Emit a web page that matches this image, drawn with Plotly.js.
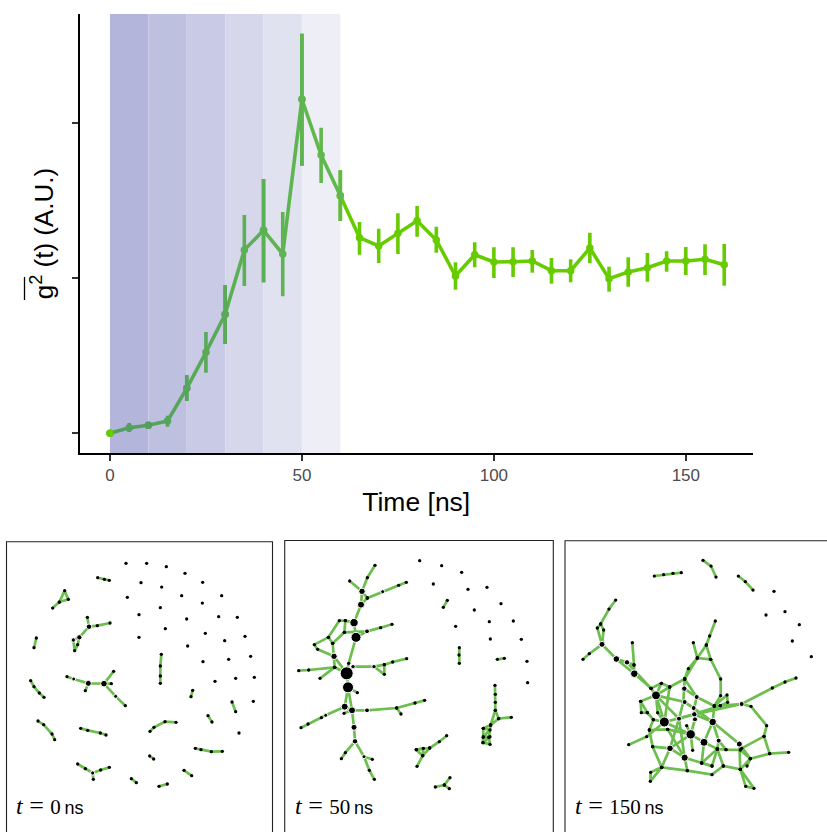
<!DOCTYPE html>
<html><head><meta charset="utf-8">
<script src="https://cdn.plot.ly/plotly-3.0.1.min.js"></script>
<style>html,body{margin:0;padding:0;background:#fff;overflow:hidden}</style>
</head><body><div id="chart" style="width:827px;height:832px"></div>
<script>
// ---- main series (arbitrary units) ----
const times = [0,5,10,15,20,25,30,35,40,45,50,55,60,65,70,75,80,85,90,95,100,105,110,115,120,125,130,135,140,145,150,155,160];
const meanG2 = [19.7,25.3,27.7,32,64.7,100.7,138.7,203,222.7,199,353.7,298,257.3,215.3,207,219.7,232.3,213,177,198.3,191,191.3,192,182.3,182.3,205,174.3,181,185.3,192,192,193.7,188.3];
const upperG2 = [19.7,30,31,37.3,77.7,121,168,238,274,241,419.3,325.3,282.7,231,224.3,239.7,247,226.3,190.7,210.7,205.7,205.7,203,195,193.7,220.3,186.3,195.7,200,201.7,206,208.7,209];
const lowerG2 = [19.7,21,24,26.3,52,80.3,109,167,170.7,156.7,287.3,270,232,198.3,190,199,216.3,200.3,163.3,185.7,175,176,180.3,169.3,170.7,189.7,161.3,166.3,171.3,181.3,178,178,167.3];
const yTicks = [20,175,330];
const xTicks = [0,50,100,150];
const bandEdges = [0,10,20,30,40,50,60];
const bandFill = ['#b3b5da','#bec0df','#c9cae6','#d6d7eb','#e1e2f0','#eeeef7'];
const bandLine = ['#549f60','#57a55c','#59aa58','#5baf55','#5eb451','#61b84d'];

// ---- contact networks at three times (panel picture units) ----
const p1Lone = [[378,100],[440,100],[499,110],[555,130],[423,158],[485,171],[608,157],[545,197],[665,197],[382,202],[607,219],[481,233],[417,254],[560,267],[656,260],[712,262],[496,296],[616,310],[417,322],[674,332],[735,319],[563,348],[609,395],[686,388],[752,379],[645,454],[707,445],[763,442],[760,514],[717,609]];
const p1Paths = [[293,143,313,148,328,151],[158,234,178,216,194,182,205,208,178,216],[262,262,267,290,292,287,330,279],[267,290,238,322,220,330,224,362,233,344,238,322],[109,324,102,353],[484,373,481,408,481,438,481,460],[92,452,102,470,118,489,132,502],[201,440,221,447,265,460,312,461,334,461],[265,460,256,482],[312,461,341,424],[312,461,347,499,376,527],[578,481,573,500],[696,516,707,545],[624,557,636,576],[114,573,131,584,156,612,164,629],[242,595,263,601,301,609,318,615],[450,604,462,592,495,575,528,577],[586,655,603,659,634,665,667,664],[449,678,461,687],[233,702,256,716,278,729,302,720,328,712],[278,729,280,748],[394,746,409,758],[477,769,502,762],[552,721,575,737]];
const p1Big = [[312,461,6.6],[265,460,6],[267,290,5.5],[238,322,5.3],[220,330,4.4],[278,729,4.2],[347,499,4],[221,447,3.8]];

const p2Lone = [[419,92],[485,107],[545,127],[460,162],[564,178],[621,172],[663,221],[583,240],[628,275],[700,273],[527,289],[631,327],[724,328],[741,394],[743,458]];
const p2Paths = [[490,232,502,211],[538,353,537,375,538,400],[652,388,673,385],[285,106,262,143,246,184,243,224,222,278,228,322,206,400,200,430],[209,153,246,184],[379,157,356,166,308,185,262,204,246,184],[262,204,243,224],[222,278,196,272,178,272,145,322,103,344,113,358,162,379,200,430],[196,272,193,307,158,340,162,379,164,412,200,430],[193,307,261,304,302,293,336,283],[228,322,261,304],[145,322,158,340],[56,422,86,420,164,412],[120,445,164,412],[200,430,219,410,282,410,313,404,338,396,380,386],[282,410,313,433,313,404],[200,430,204,472,194,530,216,541],[204,472,232,488],[204,472,216,541,222,592,225,634],[63,593,84,582,124,563,137,556,194,530],[192,550,216,541],[216,541,261,541,350,534,405,519,434,511],[350,534,363,552],[225,634,196,668,184,686],[225,634,252,680,268,721,283,748],[252,680,277,688],[500,617,478,635,449,654,428,677,411,709],[409,659,449,654],[409,659,428,677],[409,659,430,655,428,677],[645,466,646,493,646,517,646,541,632,585,610,595,609,638,630,643,627,622,632,585],[646,541,656,566,694,562],[656,566,632,585],[610,595,630,600,610,620,630,620,609,638],[610,622,627,622],[466,771,493,765,510,743],[493,765,508,776]];
const p2Big = [[200,430,13],[204,472,11],[228,322,10],[222,278,8.4],[243,224,7],[246,184,6.4],[162,379,6.4],[194,530,7],[216,541,7],[222,592,6],[225,634,5.4],[261,541,4.8],[282,410,4.4],[219,410,4.4],[261,304,4.8],[137,556,4],[252,680,4],[308,185,4]];

const p3Lone = [[657,184],[690,245],[633,255],[733,284],[712,333],[769,380]];
const p3Paths = [[298,138,326,134,354,130,379,128],[444,91,468,108,483,141],[550,138,571,155,594,180],[182,210,162,237,137,282,127,294,141,343],[137,282,146,300,141,343],[84,388,103,371,141,343,184,387,216,397,237,405,238,431,288,475,303,496],[184,387,238,431],[232,338,237,405],[216,397,288,475],[481,273,464,318,454,345,427,384,400,416,389,447,388,476,385,516,372,566,345,655,320,712,286,754,287,727,320,712],[415,338,427,384,467,388,454,345],[467,388,497,447,497,497,478,528],[427,384,389,447],[389,447,344,471,319,460,288,475],[344,471,303,496],[319,460,303,496],[389,447,425,501],[723,444,690,456,652,474,560,522,496,527,478,528,473,576,447,637],[560,522,588,529,635,587,627,619,560,655],[627,619,644,671,701,667],[644,671,586,686,556,718,505,708,471,734,397,722,320,712],[556,718,597,775,572,769,556,718],[586,686,576,708],[473,576,553,642,586,686],[473,576,491,632,513,659,556,660,586,686],[491,632,487,657,471,708,440,699],[487,657,505,708],[487,657,440,699,447,637],[447,637,407,613,328,576,303,496],[221,644,275,620,328,576],[303,496,257,514,259,548,277,548,295,569,328,576],[257,514,277,548],[303,496,308,548,328,576],[295,569,283,600,293,650,345,655,389,683,397,722],[283,600,338,598,407,613],[293,650,320,712],[389,683,372,566],[344,471,328,576],[303,496,389,516,473,576],[303,496,372,566],[425,501,418,534,417,553,420,568,407,613,413,661],[388,476,425,501,478,528],[372,566,496,527],[328,576,418,553,560,522],[417,553,473,576],[389,516,417,535,473,576],[395,587,407,613],[338,598,389,683],[447,637,487,657,513,659],[478,528,516,495,518,517,496,527],[389,683,440,699,471,708],[345,655,407,613],[553,642,556,718]];
const p3Big = [[328,576,10],[407,613,9.4],[303,496,8.8],[447,637,8],[473,576,7.6],[389,683,7.2],[238,431,7.6],[345,655,6.6],[184,387,6.6],[216,397,5.4],[141,343,6],[553,642,6],[388,476,5.4],[425,501,5],[389,516,5],[418,553,5.4],[420,568,5],[416,534,5],[372,566,5],[491,632,5],[560,522,5]];

const W = 827, H = 832;
const px = v => v / W, py = v => 1 - v / H;
const GREEN = '#66CC00', EDGE = '#6CBE4E', SANS = 'Liberation Sans', SERIF = 'Liberation Serif';

function edges(paths){ const x=[],y=[]; paths.forEach(p=>{ for(let i=0;i<p.length;i+=2){x.push(p[i]);y.push(p[i+1]);} x.push(null);y.push(null); }); return {x,y}; }
function smallNodes(paths,lone){ const x=[],y=[]; paths.forEach(p=>{ for(let i=0;i<p.length;i+=2){x.push(p[i]);y.push(p[i+1]);} }); lone.forEach(n=>{x.push(n[0]);y.push(n[1]);}); return {x,y}; }

function netTraces(paths,lone,big,ax,ay){
  const e=edges(paths), s=smallNodes(paths,lone);
  return [
    {x:e.x,y:e.y,xaxis:ax,yaxis:ay,mode:'lines',line:{color:EDGE,width:2.7},hoverinfo:'skip',connectgaps:false},
    {x:s.x,y:s.y,xaxis:ax,yaxis:ay,mode:'markers',marker:{color:'#000',size:3.3,opacity:1},hoverinfo:'skip'},
    {x:big.map(b=>b[0]),y:big.map(b=>b[1]),xaxis:ax,yaxis:ay,mode:'markers',marker:{color:'#000',opacity:1,size:big.map(b=>b[2]),sizemode:'diameter'},hoverinfo:'skip'}
  ];
}

// one trace per time window so the line takes the tint of the band it crosses
function seriesPart(t0,t1,color){
  const idx = times.map((t,i)=>i).filter(i=>times[i]>=t0 && times[i]<=t1);
  return {x:idx.map(i=>times[i]),y:idx.map(i=>meanG2[i]),mode:'lines+markers',
    line:{color:color,width:3.6},marker:{color:color,size:7.5,opacity:1},hoverinfo:'skip',
    error_y:{type:'data',symmetric:false,
      array:idx.map(i=>upperG2[i]-meanG2[i]),arrayminus:idx.map(i=>meanG2[i]-lowerG2[i]),
      color:color,thickness:3.6,width:0}};
}
const mainTraces = [seriesPart(bandEdges[bandEdges.length-1],times[times.length-1],GREEN)];
for(let i=bandLine.length-1;i>=0;i--) mainTraces.push(seriesPart(bandEdges[i],bandEdges[i+1],bandLine[i]));
mainTraces.push({x:[times[0]],y:[meanG2[0]],mode:'markers',marker:{color:GREEN,size:7.5,opacity:1},hoverinfo:'skip'});

const traces = mainTraces.concat(
  netTraces(p1Paths,p1Lone,p1Big,'x2','y2'),
  netTraces(p2Paths,p2Lone,p2Big,'x3','y3'),
  netTraces(p3Paths,p3Lone,p3Big,'x4','y4')
);

const hidden = {showgrid:false,zeroline:false,showticklabels:false,ticks:'',showline:false,fixedrange:true};
const bands = bandFill.map((c,i)=>({type:'rect',layer:'below',xref:'x',yref:'y',x0:bandEdges[i],x1:bandEdges[i+1],y0:0,y1:439,
  fillcolor:c,line:{width:0}}));
const frames = [[6.5,272.5,541.7],[284.7,553.3,540.5],[565,840,540.7]].map(f=>({type:'rect',layer:'above',xref:'paper',yref:'paper',
  x0:px(f[0]),x1:px(f[1]),y0:py(f[2]),y1:py(850),fillcolor:'rgba(0,0,0,0)',line:{color:'#222',width:1.1}}));
const overbar = {type:'line',layer:'above',xref:'paper',yref:'paper',x0:px(24.5),x1:px(24.5),y0:py(277),y1:py(300),line:{color:'#000',width:1.3}};

function label(xPx,val){ return {xref:'paper',yref:'paper',x:px(xPx),y:py(805),xanchor:'left',yanchor:'middle',showarrow:false,
  text:'<span style="font-size:24px"><i>t</i></span><span style="font-size:26px">\u00A0=\u00A0</span>'+val+'<span style="font-family:\''+SANS+'\';font-size:18px">\u2009ns</span>',
  font:{family:SERIF,size:21,color:'#000'}}; }

const layout = {
  width:W,height:H,margin:{l:0,r:0,t:0,b:0},paper_bgcolor:'#fff',plot_bgcolor:'rgba(0,0,0,0)',showlegend:false,
  font:{family:SANS},
  xaxis:{domain:[px(79.5),px(753)],range:[-7.94,167.5],anchor:'y',tickmode:'array',tickvals:xTicks,ticks:'outside',ticklen:6,tickwidth:1.5,tickcolor:'#333',
    showgrid:false,zeroline:false,showline:true,linecolor:'#000',linewidth:2,tickfont:{family:SANS,size:17,color:'#4d4d4d'},
    title:{text:'Time [ns]',font:{family:SANS,size:26.5,color:'#000'},standoff:8},fixedrange:true,automargin:false},
  yaxis:{domain:[py(453),py(14)],range:[0,439],anchor:'x',tickmode:'array',tickvals:yTicks,ticks:'outside',ticklen:6,tickwidth:1.5,tickcolor:'#333',
    showticklabels:false,showgrid:false,zeroline:false,showline:true,linecolor:'#000',linewidth:2,
    title:{text:'g<sup>2</sup> (t) (A.U.)',font:{family:SANS,size:26,color:'#000'},standoff:10},fixedrange:true,automargin:false},
  xaxis2:Object.assign({domain:[px(6.5),px(272.5)],range:[19.5,817.5],anchor:'y2'},hidden),
  yaxis2:Object.assign({domain:[0,py(541.7)],range:[906,35],anchor:'x2'},hidden),
  xaxis3:Object.assign({domain:[px(284.7),px(553.3)],range:[14,820],anchor:'y3'},hidden),
  yaxis3:Object.assign({domain:[0,py(540)],range:[906,30],anchor:'x3'},hidden),
  xaxis4:Object.assign({domain:[px(565),1],range:[30,816],anchor:'y4'},hidden),
  yaxis4:Object.assign({domain:[0,py(540.7)],range:[906,32],anchor:'x4'},hidden),
  shapes:bands.concat(frames,[overbar]),
  annotations:[label(14,'0'),label(293,'50'),label(573,'150')]
};
Plotly.newPlot('chart',traces,layout,{displayModeBar:false,staticPlot:true});
</script></body></html>
